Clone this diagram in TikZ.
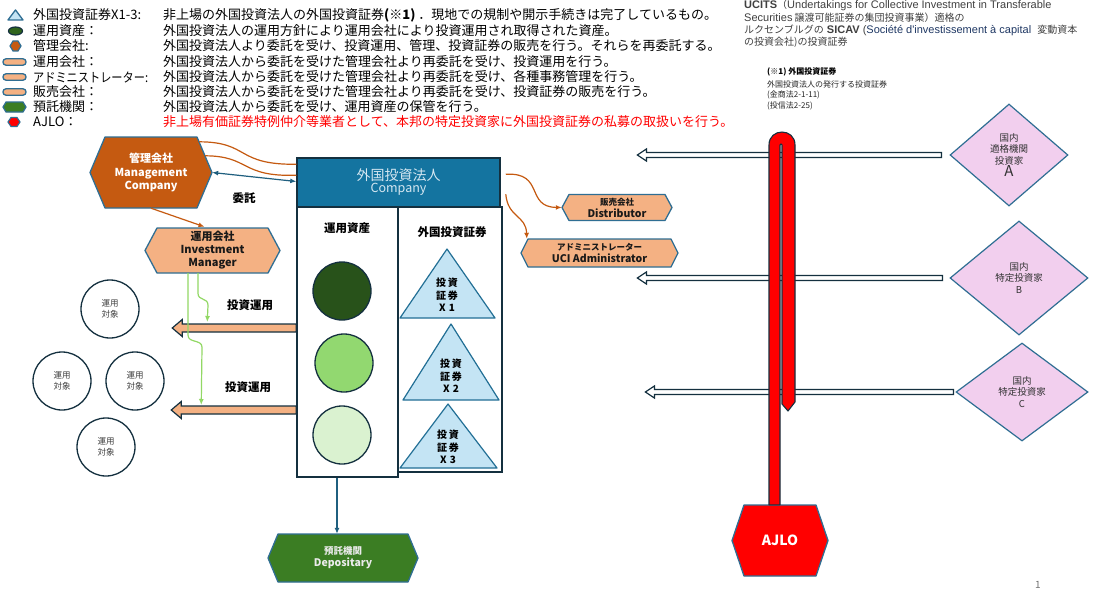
\documentclass[tikz,border=0pt]{standalone}
\usepackage{fontspec}
\usepackage{graphicx}
\setmainfont{Noto Sans CJK JP}
\newfontfamily\lib{Liberation Sans}
\usetikzlibrary{calc,shapes.geometric,arrows.meta}
\definecolor{navy}{HTML}{14303F}
\definecolor{hexblue}{HTML}{2F6E93}
\definecolor{mgorange}{HTML}{C55A11}
\definecolor{peach}{HTML}{F4B183}
\definecolor{coblue}{HTML}{1474A0}
\definecolor{cotext}{HTML}{D5E7F1}
\definecolor{dkgreen}{HTML}{28521A}
\definecolor{mdgreen}{HTML}{92D870}
\definecolor{ltgreen}{HTML}{DAF2D0}
\definecolor{trifill}{HTML}{C4E4F4}
\definecolor{tristroke}{HTML}{226F95}
\definecolor{depgreen}{HTML}{3B7D23}
\definecolor{pinkd}{HTML}{F2CFEE}
\definecolor{lgline}{HTML}{92D865}
\definecolor{greytext}{HTML}{404040}
\definecolor{sicavblue}{HTML}{1F3864}
\definecolor{arrowblue}{HTML}{1F5F7F}
\newcommand\fsz[2]{\fontsize{#1}{#2}\selectfont}
\newcommand\lat[1]{{\lib\fsz{11}{12}#1}}
% hexagon: name, cx, cy, half width, half height, depth, path style, node style, text
\newcommand\hexnode[9]{%
  \draw[#7] (#2-#4,#3) -- (#2-#4+#6,#3-#5) -- (#2+#4-#6,#3-#5) -- (#2+#4,#3)
     -- (#2+#4-#6,#3+#5) -- (#2-#4+#6,#3+#5) -- cycle;
  \node[inner sep=0pt,minimum width=2*#4,minimum height=2*#5,align=center,#8] (#1) at (#2,#3) {#9};}
% triangle: name, apex x, apex y, base left, base right, base y, text y, text
\newcommand\trinode[8]{%
  \draw[tri] (#2,#3) -- (#5,#6) -- (#4,#6) -- cycle;
  \node[tritext] (#1) at (#2,#7) {#8};}
% hollow arrow pointing left: right end, tip
\newcommand\hollowarrow[2]{%
  \draw[hollow] (#2) -- ($(#2)+(9,-6)$) -- ($(#2)+(9,-2.5)$) -- ($(#1)+(0,-2.5)$)
     -- ($(#1)+(0,2.5)$) -- ($(#2)+(9,2.5)$) -- ($(#2)+(9,6)$) -- cycle;}
% orange block arrow pointing left: right end, tip
\newcommand\blockarrow[2]{%
  \draw[blockarr] (#2) -- ($(#2)+(10,-8.5)$) -- ($(#2)+(10,-4)$) -- ($(#1)+(0,-4)$)
     -- ($(#1)+(0,4)$) -- ($(#2)+(10,4)$) -- ($(#2)+(10,8.5)$) -- cycle;}
\begin{document}
\begin{tikzpicture}[x=1pt,y=-1pt,
  leg/.style={anchor=west,inner sep=0pt,font=\fsz{13}{15}},
  note/.style={anchor=west,inner sep=0pt,text=greytext,font=\fsz{10}{12}},
  hexo/.style={draw=hexblue,line width=1.3pt,line join=round},
  tri/.style={fill=trifill,draw=tristroke,line width=1.2pt,line join=round},
  tritext/.style={inner sep=0pt,align=center,font=\bfseries\fsz{10}{12.5}},
  hollow/.style={fill=white,draw=navy,line width=1.2pt},
  blockarr/.style={fill=peach,draw=navy,line width=1.2pt},
  target/.style={circle,draw=navy,line width=1.3pt,fill=white,minimum size=58pt,inner sep=0pt,
                 align=center,text=greytext,font=\fsz{8.5}{11}},
  asset/.style={circle,draw=navy,line width=1.3pt,minimum size=58pt,inner sep=0pt},
  box/.style={draw=navy,line width=1.5pt,inner sep=0pt},
  invest/.style={diamond,draw=hexblue,line width=1.2pt,fill=pinkd,inner sep=0pt,align=center,
                 font=\fsz{9.5}{11.5},text=black!80},
  orarrow/.style={draw=mgorange,line width=1.2pt,-{Latex[length=6pt,width=5pt]}},
  orline/.style={draw=mgorange,line width=1.2pt},
  grarrow/.style={draw=lgline,line width=1.2pt,-{Latex[length=6pt,width=5pt]}},
  blarrow/.style={draw=arrowblue,line width=1.2pt},
  lbl/.style={inner sep=0pt,font=\bfseries\fsz{11.5}{13}},
]
\useasboundingbox (0,0) rectangle (1094,594);
\fill[white] (0,0) rectangle (1094,594);

% ---------------- legend icons ----------------
\draw[fill=trifill,draw=hexblue,line width=1.3pt,line join=round] (8,20) -- (15.5,10) -- (23,20) -- cycle;
\draw[fill=depgreen!80!black,draw=navy,line width=1.2pt] (15.5,31) ellipse[x radius=7,y radius=4];
\draw[fill=mgorange,draw=hexblue,line width=1.2pt] (10,46) -- (13,41) -- (18,41) -- (21,46) -- (18,51) -- (13,51) -- cycle;
\foreach \yy in {62,77,92}
  \draw[fill=peach,draw=hexblue,line width=1.3pt,rounded corners=3pt] (3,\yy-3.2) rectangle (26,\yy+3.2);
\draw[fill=depgreen,draw=hexblue,line width=1.2pt] (3,107) -- (6,102) -- (23,102) -- (26,107) -- (23,112) -- (6,112) -- cycle;
\draw[fill=red,draw=hexblue,line width=1.2pt] (8,122) -- (11,117.5) -- (17,117.5) -- (20,122) -- (17,126.5) -- (11,126.5) -- cycle;

% ---------------- legend labels ----------------
\node[leg] (l1) at (33,15) {外国投資証券X1-3:};
\node[leg] (l2) at (33,31) {運用資産：};
\node[leg] (l3) at (33,46) {管理会社:};
\node[leg] (l4) at (33,62) {運用会社：};
\node[leg] (l5) at (33,77) {\scalebox{0.86}[1]{アドミニストレーター:}};
\node[leg] (l6) at (33,92) {販売会社：};
\node[leg] (l7) at (33,107) {預託機関：};
\node[leg] (l8) at (33,122) {AJLO：};

\node[leg] (d1) at (163,15) {非上場の外国投資法人の外国投資証券\textbf{(※1)} ．現地での規制や開示手続きは完了しているもの。};
\node[leg] (d2) at (163,31) {外国投資法人の運用方針により運用会社により投資運用され取得された資産。};
\node[leg] (d3) at (163,46) {外国投資法人より委託を受け、投資運用、管理、投資証券の販売を行う。それらを再委託する。};
\node[leg] (d4) at (163,62) {外国投資法人から委託を受けた管理会社より再委託を受け、投資運用を行う。};
\node[leg] (d5) at (163,77) {外国投資法人から委託を受けた管理会社より再委託を受け、各種事務管理を行う。};
\node[leg] (d6) at (163,92) {外国投資法人から委託を受けた管理会社より再委託を受け、投資証券の販売を行う。};
\node[leg] (d7) at (163,107) {外国投資法人から委託を受け、運用資産の保管を行う。};
\node[leg,text=red] (d8) at (163,122) {非上場有価証券特例仲介等業者として、本邦の特定投資家に外国投資証券の私募の取扱いを行う。};

% ---------------- top right notes ----------------
\node[note] (u1) at (744,5) {\lat{\textbf{UCITS}}（\lat{Undertakings for Collective Investment in Transferable}};
\node[note] (u2) at (744,17.5) {\lat{Securities} 譲渡可能証券の集団投資事業）適格の};
\node[note] (u3) at (744,30) {ルクセンブルグの\lat{ \textbf{SICAV} ({\color{sicavblue}Société d'investissement à capital}\ \ }変動資本};
\node[note] (u4) at (744,42.5) {の投資会社)の投資証券};

\node[anchor=west,inner sep=0pt,font=\bfseries\fsz{8}{10}] (n1) at (767,72) {(※1) 外国投資証券};
\node[anchor=west,inner sep=0pt,text=black!85,font=\fsz{8}{10}] (n2) at (767,84) {外国投資法人の発行する投資証券};
\node[anchor=west,inner sep=0pt,text=black!85,font=\fsz{8}{10}] (n3) at (767,95) {(金商法2-1-11)};
\node[anchor=west,inner sep=0pt,text=black!85,font=\fsz{8}{10}] (n4) at (767,106) {(投信法2-25)};

% ---------------- company ----------------
\node[box,fill=white,minimum width=101pt,minimum height=270pt] (ua) at (347.5,342) {};
\node[box,fill=white,minimum width=104pt,minimum height=265pt] (ub) at (450,339.5) {};
\node[box,fill=coblue,minimum width=203pt,minimum height=49pt,align=center,text=cotext] (co) at (398.5,182.5)
  {{\fsz{14}{17}外国投資法人}\\{\fsz{12.5}{15}Company}};
\node[lbl] (uat) at (347,228) {運用資産};
\node[lbl] (ubt) at (452,232) {外国投資証券};

\node[asset,fill=dkgreen] (g1) at (342,291) {};
\node[asset,fill=mdgreen] (g2) at (344,363) {};
\node[asset,fill=ltgreen] (g3) at (342,435) {};

\trinode{t1}{447}{249}{400}{495}{318}{295}{投\,資\\証\,券\\X\,\,1}
\trinode{t2}{451}{324}{403}{499}{400}{376}{投\,資\\証\,券\\X\,\,2}
\trinode{t3}{448}{404}{400}{497}{468}{447}{投\,資\\証\,券\\X\,\,3}

% ---------------- management / investment manager ----------------
\hexnode{mg}{151}{172.5}{61}{35.5}{15}{hexo,fill=mgorange}{text=white,font=\bfseries\fsz{11}{13.5}}{管理会社\\Management\\Company}
\hexnode{im}{212.5}{250.5}{67.5}{22.5}{12}{hexo,fill=peach}{text=black!90,font=\bfseries\fsz{11}{13}}{運用会社\\Investment\\Manager}

\draw[orline] ($(mg.north east)+(-13,5)$) .. controls (250,142) and (235,165) .. ($(co.north west)+(0,7)$);
\draw[orline] ($(mg.north east)+(-7,19)$) .. controls (250,156) and (240,177) .. ($(co.north west)+(0,18)$);
\draw[blarrow,{Latex[length=6pt,width=5pt]}-{Latex[length=6pt,width=5pt]}] (mg.east) -- ($(co.west)+(0,-1)$);
\node[lbl] (itaku) at (244,198) {委託};
\draw[orarrow] (mg.south) -- ($(im.north)+(-8,-1)$);

% ---------------- distributor / administrator ----------------
\hexnode{di}{617}{207.5}{55}{13}{7}{hexo,fill=peach}{text=black!90,font=\bfseries}{{\fsz{8.5}{10}販売会社}\\{\fsz{10.5}{12}Distributor}}
\hexnode{ad}{599.5}{253}{78.5}{14}{7}{hexo,fill=peach}{text=black!90,font=\bfseries}{{\fsz{8.5}{10}アドミニストレーター}\\{\fsz{10.5}{12}UCI Administrator}}
\draw[orarrow] ($(co.north east)+(5,17)$) .. controls (545,172) and (525,207) .. (di.west);
\draw[orarrow] ($(co.north east)+(5,37)$) .. controls (508,218) and (526,215) .. ($(ad.north west)+(6,0)$);

% ---------------- investment targets ----------------
\node[target] (o1) at (110,309) {運用\\対象};
\node[target] (o2) at (62,381) {運用\\対象};
\node[target] (o3) at (135,381) {運用\\対象};
\node[target] (o4) at (106,447) {運用\\対象};

\coordinate (ia1) at ($(ua.west)+(0,-14)$);
\coordinate (ia1t) at ($(ia1)+(-124,0)$);
\coordinate (ia2) at ($(ua.west)+(0,68)$);
\coordinate (ia2t) at ($(ia2)+(-125,0)$);
\blockarrow{ia1}{ia1t}
\blockarrow{ia2}{ia2t}
\node[lbl] (iv1) at (250,305) {投資運用};
\node[lbl] (iv2) at (248,387) {投資運用};

\coordinate (ga) at ($(ia1t)+(35,-6)$);
\coordinate (gb) at ($(ia2t)+(30,-5)$);
\draw[grarrow] ($(im.south)+(-14.5,0)$) -- ++(0,20) .. controls +(0,8) and +(0,-8) .. ++(10,12) -- (ga);
\draw[grarrow] ($(im.south)+(-24.5,0)$) -- ++(0,62) .. controls +(0,8) and +(0,-8) .. ++(14,12) -- (gb);

% ---------------- depositary ----------------
\hexnode{dp}{343}{558}{75}{24}{10}{hexo,fill=depgreen}{text=white!92!black,font=\bfseries}{{\fsz{9.5}{12}預託機関}\\{\fsz{10.5}{13}Depositary}}
\draw[draw=arrowblue,line width=1.2pt,-{Latex[length=6pt,width=5pt]}] ($(ua.south)+(-10.5,0)$) -- ($(dp.north)+(-6,0)$);

% ---------------- investors ----------------
\node[invest,minimum width=118pt,minimum height=102pt] (dA) at (1009,155) {国内\\適格機関\\投資家\\{\fsz{15}{17}A}};
\node[invest,minimum width=138pt,minimum height=114pt] (dB) at (1019,278) {国内\\特定投資家\\B};
\node[invest,minimum width=132pt,minimum height=98pt] (dC) at (1022,392) {国内\\特定投資家\\C};

\coordinate (eA) at ($(dA.west)+(-8,0)$);
\coordinate (tA) at ($(dA.west)+(-312,0)$);
\coordinate (eB) at ($(dB.west)+(-7,0)$);
\coordinate (tB) at ($(dB.west)+(-312,0)$);
\coordinate (eC) at ($(dC.west)+(-2,0)$);
\coordinate (tC) at ($(dC.west)+(-310,0)$);
\hollowarrow{eA}{tA}
\hollowarrow{eB}{tB}
\hollowarrow{eC}{tC}

% ---------------- AJLO ----------------
\hexnode{aj}{780}{540.5}{48}{35.5}{12}{hexo,fill=red}{text=white,font=\bfseries\fsz{14}{16}}{AJLO}
\draw[fill=red,draw=navy,line width=1.1pt,line join=round]
  ($(aj.north)+(-11,0)$) -- (769,145) .. controls (769,127.7) and (795,127.7) .. (795,145)
  -- (795,402) -- (788,411) -- (782,404) -- (782,145) .. controls (782,143.6) and (780,143.6) .. (780,145)
  -- ($(aj.north)+(0,0)$) -- cycle;

\node[inner sep=0pt,text=black!55,font=\fsz{10}{12}] (pg) at (1038,585) {1};
\end{tikzpicture}
\end{document}
